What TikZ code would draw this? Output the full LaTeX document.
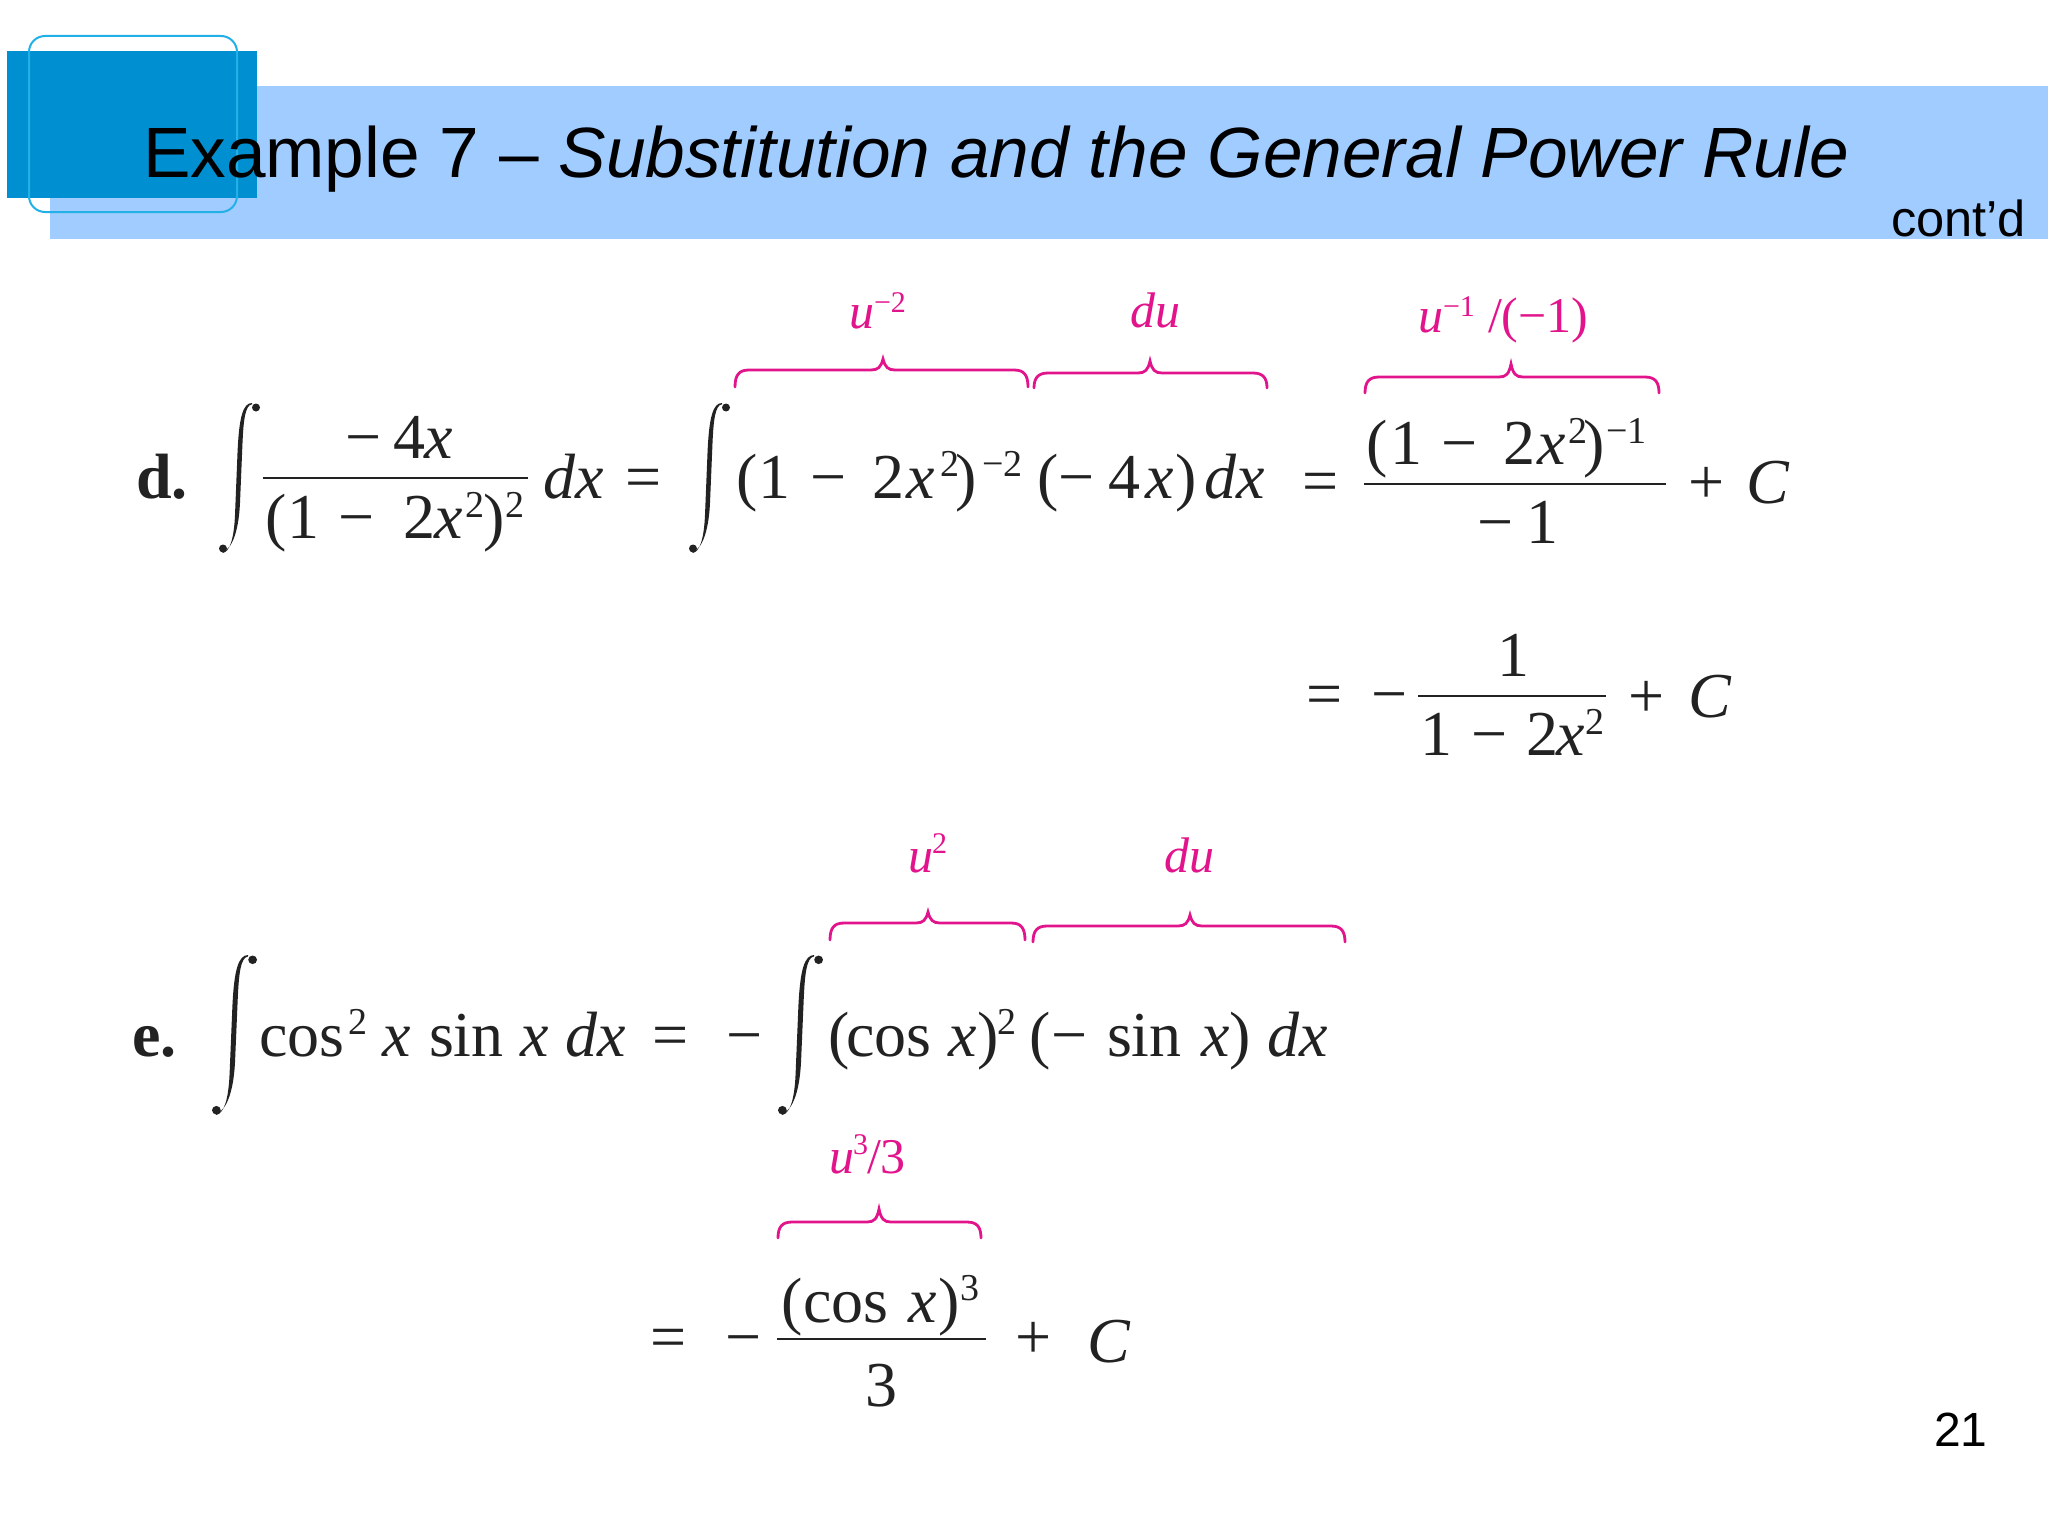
\documentclass[tikz,border=0pt]{standalone}
\usepackage{fontspec}
\setmainfont{Liberation Serif}
\newfontfamily\headfont{Liberation Sans}
\definecolor{ink}{HTML}{222222}
\definecolor{pinkbrace}{HTML}{E2148C}
\definecolor{bandblue}{HTML}{A0CCFF}
\definecolor{boxblue}{HTML}{0090D2}
\definecolor{edgeblue}{HTML}{22B0E6}
\newcounter{tokc}
\tikzset{
  tokstyle/.style={anchor=base west,inner sep=0pt,outer sep=0pt,text=ink,font=\fontsize{32}{36}\selectfont},
  supstyle/.style={tokstyle,font=\fontsize{19}{22}\selectfont},
  lblstyle/.style={anchor=base west,inner sep=0pt,outer sep=0pt,text=pinkbrace,font=\fontsize{25}{28}\selectfont},
  lsupstyle/.style={lblstyle,font=\fontsize{15}{18}\selectfont},
  headstyle/.style={anchor=base west,inner sep=0pt,outer sep=0pt,text=black,font=\headfont\fontsize{35.6}{40}\selectfont},
  bracestyle/.style={draw=pinkbrace,line width=1.4pt,line cap=round},
  barstyle/.style={draw=ink,line width=1.3pt}
}
\newcommand\tok[3]{\stepcounter{tokc}\node[tokstyle] (t\arabic{tokc}) at (#1,#2) {#3};}
\newcommand\sut[3]{\stepcounter{tokc}\node[supstyle] (t\arabic{tokc}) at (#1,#2) {#3};}
\newcommand\lbl[3]{\stepcounter{tokc}\node[lblstyle] (t\arabic{tokc}) at (#1,#2) {#3};}
\newcommand\lsu[3]{\stepcounter{tokc}\node[lsupstyle] (t\arabic{tokc}) at (#1,#2) {#3};}
\newcommand\brc[6]{\draw[bracestyle] (#1,#4) .. controls (#1,{#5+5}) and ({#1+4},#5) .. ({#1+14},#5) -- ({#2-12},#5) .. controls ({#2-5},#5) and ({#2-2},{#5-3}) .. (#2,#6) .. controls ({#2+2},{#5-3}) and ({#2+5},#5) .. ({#2+12},#5) -- ({#3-14},#5) .. controls ({#3-4},#5) and (#3,{#5+5}) .. (#3,#4);}
\newcommand\integ[4]{\begin{scope}[shift={(#1,#2)},xscale=#3/41,yscale=#4/150]
  \fill[ink] (33,0) .. controls (24,0) and (20,14) .. (18.5,50) -- (16,112) .. controls (15,135) and (11,149) .. (3.5,150) -- (3.5,148.7) .. controls (8,148) and (19,140) .. (21,100) -- (23.5,40) .. controls (24.5,18) and (26,2) .. (33,1.3) -- cycle;
  \fill[ink] (37,4.5) circle (4);
  \fill[ink] (4,145.5) circle (4);
\end{scope}}
\begin{document}
\begin{tikzpicture}[x=0.5pt,y=-0.5pt]
\useasboundingbox (0,0) rectangle (2048,1536);
% header
\fill[bandblue] (50,86) rectangle (2048,239);
\fill[boxblue] (7,51) rectangle (257,198);
\draw[edgeblue,line width=1pt,rounded corners=8pt] (29,36) rectangle (237,212);
\node[headstyle] (title) at (143,177) {Example 7 – \textit{Substitution and the General Power Rule}};
\node[headstyle,font=\headfont\fontsize{25.3}{30}\selectfont] (contd) at (1891,236) {cont’d};
\node[headstyle,font=\headfont\fontsize{24}{28}\selectfont] (page) at (1934,1446) {21};
% part d
\tok{136}{498}{\textbf{d.}}
\integ{219}{403}{41}{150}
\tok{345}{458}{−}\tok{393}{458}{4}\tok{424}{458}{\textit{x}}
\draw[barstyle] (263,478) -- (528,478);
\tok{265}{538}{(}\tok{287}{538}{1}\tok{338}{538}{−}\tok{403}{538}{2}\tok{434}{538}{\textit{x}}\sut{465}{517}{2}\tok{483}{538}{)}\sut{505}{517}{2}
\tok{543}{498}{\textit{dx}}\tok{625}{498}{=}
\integ{689}{403}{41}{150}
\tok{736}{498}{(}\tok{758}{498}{1}\tok{810}{498}{−}\tok{872}{498}{2}\tok{906}{498}{\textit{x}}\sut{940}{476}{2}\tok{955}{498}{)}
\sut{982}{476}{−2}
\tok{1037}{498}{(}\tok{1058}{498}{−}\tok{1108}{498}{4}\tok{1145}{498}{\textit{x}}\tok{1175}{498}{)}\tok{1204}{498}{\textit{dx}}
\tok{1302}{502}{=}
% right side d
\tok{1366}{464}{(}\tok{1390}{464}{1}\tok{1441}{464}{−}\tok{1503}{464}{2}\tok{1537}{464}{\textit{x}}\sut{1568}{443}{2}\tok{1583}{464}{)}\sut{1606}{443}{−1}
\draw[barstyle] (1364,484) -- (1666,484);
\tok{1477}{543}{−}\tok{1526}{543}{1}
\tok{1688}{503}{+}\tok{1746}{503}{\textit{C}}
% second line d
\tok{1306}{715}{=}\tok{1371}{715}{−}
\tok{1497}{676}{1}
\draw[barstyle] (1418,696) -- (1606,696);
\tok{1420}{755}{1}\tok{1471}{755}{−}\tok{1526}{755}{2}\tok{1556}{755}{\textit{x}}\sut{1585}{734}{2}
\tok{1628}{717}{+}\tok{1688}{717}{\textit{C}}
% braces d
\brc{735}{883}{1028}{387}{370}{359}
\brc{1034}{1150}{1267}{388}{373}{361}
\brc{1365}{1511}{1659}{393}{377}{364}
\lbl{849}{328}{\textit{u}}\lsu{874}{312}{−2}
\lbl{1130}{327}{\textit{du}}
\lbl{1418}{332}{\textit{u}}\lsu{1443}{316}{−1}\lbl{1488}{332}{/(−1)}
% part e
\tok{132}{1056}{\textbf{e.}}
\integ{212}{955}{45}{160}
\tok{259}{1056}{cos}\sut{348}{1034}{2}\tok{382}{1056}{\textit{x}}\tok{429}{1056}{sin}\tok{520}{1056}{\textit{x}}\tok{565}{1056}{\textit{dx}}
\tok{652}{1056}{=}\tok{726}{1056}{−}
\integ{778}{955}{45}{160}
\tok{828}{1056}{(}\tok{846}{1056}{cos}\tok{948}{1056}{\textit{x}}\tok{977}{1056}{)}\sut{997}{1034}{2}
\tok{1029}{1056}{(}\tok{1051}{1056}{−}\tok{1107}{1056}{sin}\tok{1201}{1056}{\textit{x}}\tok{1229}{1056}{)}\tok{1267}{1056}{\textit{dx}}
\brc{830}{928}{1025}{940}{923}{912}
\brc{1033}{1190}{1345}{942}{926}{915}
\lbl{908}{872}{\textit{u}}\lsu{932}{853}{2}
\lbl{1164}{872}{\textit{du}}
% e second line
\brc{778}{879}{981}{1238}{1222}{1209}
\lbl{829}{1173}{\textit{u}}\lsu{853}{1154}{3}\lbl{867}{1173}{/3}
\tok{781}{1322}{(}\tok{803}{1322}{cos}\tok{908}{1322}{\textit{x}}\tok{938}{1322}{)}\sut{960}{1300}{3}
\draw[barstyle] (777,1339) -- (986,1339);
\tok{865}{1406}{3}
\tok{650}{1358}{=}\tok{725}{1358}{−}
\tok{1015}{1358}{+}\tok{1087}{1362}{\textit{C}}
\end{tikzpicture}
\end{document}
